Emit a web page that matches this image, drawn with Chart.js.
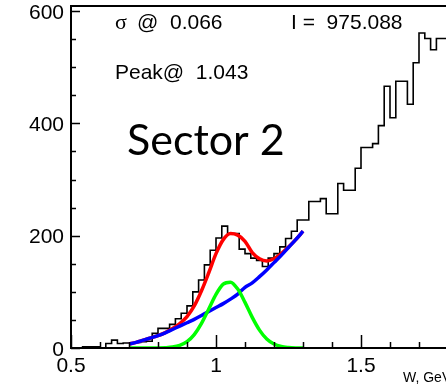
<!DOCTYPE html>
<html><head><meta charset="utf-8">
<script src="https://cdn.jsdelivr.net/npm/chart.js@4/dist/chart.umd.min.js"></script>
<style>
html,body{margin:0;padding:0;background:#fff;overflow:hidden;width:446px;height:387px}
#wrap{position:absolute;left:0;top:0;width:460px;height:387px}
canvas{display:block}
</style></head>
<body><div id="wrap"><canvas id="c" width="460" height="387"></canvas></div>
<script>
// ---- histogram: lower bin edges (GeV) and counts ----
const binLowEdges = [0.50,0.52,0.54,0.56,0.58,0.60,0.62,0.64,0.66,0.68,
  0.70,0.72,0.74,0.76,0.78,0.80,0.82,0.84,0.86,0.88,
  0.90,0.92,0.94,0.96,0.98,1.00,1.02,1.04,1.06,1.08,
  1.10,1.12,1.14,1.16,1.18,1.20,1.22,1.24,1.26,1.28,
  1.30,1.32,1.34,1.36,1.38,1.40,1.42,1.44,1.46,1.48,
  1.50,1.52,1.54,1.56,1.58,1.60,1.62,1.64,1.66,1.68,
  1.70,1.72,1.74,1.76,1.78];
const binCounts = [0,0,0,2,2,2,0,8,14,8,
  9,9,10,11,12,26,35,35,42,52,
  62,75,100,121,148,174,196,217,204,204,
  176,168,160,156,145,160,168,180,195,208,
  228,228,261,261,266,239,239,293,281,281,
  320,357,357,364,396,466,410,475,475,434,
  508,561,551,531,551];
const lastBinUpperEdge = 1.80;

// ---- fit curves ----
const fitX = [0.700,0.725,0.750,0.775,0.800,0.825,0.850,0.875,0.900,0.925,
  0.950,0.975,1.000,1.025,1.050,1.075,1.100,1.125,1.150,1.175,
  1.200,1.225,1.250,1.275,1.300];
const totalFit = [7,10,14,18,22,27.5,34.6,43.6,56,75,
  102,134,168,193,204,201,190,170,159,155,
  159,168,180,193,208];
const backgroundFit = [7,10,14,18,22,27,33,39,45,51,
  58,65,72,79,87,96,108,116,127,139,
  152,165,179,193,208];
const signalFit = [0,0,0,0,0.1,0.5,1.6,4.6,11.2,23.8,
  43.7,69.4,95.5,113.7,117.3,104.9,81.3,54.5,31.8,16,
  7,2.6,0.9,0.2,0];

// ---- axes ----
const xRange = [0.5, 1.8];
const yRange = [0, 609];
const xMajorTicks = [0.5, 1, 1.5];
const xTickLabels = ['0.5', '1', '1.5'];
const xMinorTicks = [0.6,0.7,0.8,0.9,1.1,1.2,1.3,1.4,1.6,1.7];
const yMajorTicks = [0, 200, 400, 600];
const yTickLabels = ['0', '200', '400', '600'];
const yMinorTicks = [50,100,150,250,300,350,450,500,550];

// ---- texts ----
const sigmaSymbol = 'σ';
const sigmaText = '@  0.066';
const integralText = 'I =  975.088';
const peakText = 'Peak@  1.043';
const sectorText = 'Sector 2';
const xTitle = 'W, GeV';

const histPoints = binLowEdges.map((e, i) => ({x: e, y: binCounts[i]}));
histPoints.push({x: lastBinUpperEdge, y: binCounts[binCounts.length - 1]});
const toPts = arr => fitX.map((x, i) => ({x, y: arr[i]}));

const SANS = '"Liberation Sans", Arial, Helvetica, sans-serif';

const rootStyle = {
  id: 'rootStyle',
  afterDraw(chart) {
    const {ctx, chartArea: a, scales: {x, y}} = chart;
    ctx.save();
    ctx.strokeStyle = '#000';
    ctx.lineWidth = 2;
    ctx.strokeRect(a.left, a.top, a.right - a.left, a.bottom - a.top);
    ctx.lineWidth = 1.5;
    ctx.beginPath();
    yMajorTicks.forEach(v => { const p = Math.round(y.getPixelForValue(v)) + 0.5; ctx.moveTo(a.left, p); ctx.lineTo(a.left + 9, p); });
    yMinorTicks.forEach(v => { const p = Math.round(y.getPixelForValue(v)) + 0.5; ctx.moveTo(a.left, p); ctx.lineTo(a.left + 5, p); });
    xMajorTicks.forEach(v => { const p = Math.round(x.getPixelForValue(v)) + 0.5; ctx.moveTo(p, a.bottom); ctx.lineTo(p, a.bottom - 13); });
    xMinorTicks.forEach(v => { const p = Math.round(x.getPixelForValue(v)) + 0.5; ctx.moveTo(p, a.bottom); ctx.lineTo(p, a.bottom - 6); });
    ctx.stroke();

    ctx.fillStyle = '#000';
    ctx.font = '21px ' + SANS;
    ctx.textBaseline = 'alphabetic';
    ctx.textAlign = 'right';
    yMajorTicks.forEach((v, i) => ctx.fillText(yTickLabels[i], a.left - 7, y.getPixelForValue(v) + 7.5));
    ctx.textAlign = 'center';
    xMajorTicks.forEach((v, i) => ctx.fillText(xTickLabels[i], x.getPixelForValue(v), a.bottom + 24));

    ctx.textAlign = 'left';
    ctx.font = '14px ' + SANS;
    ctx.fillText(xTitle, 403, 382);

    ctx.font = '22px "Liberation Serif", "Times New Roman", serif';
    ctx.fillText(sigmaSymbol, 115, 28.5);
    ctx.font = '21px ' + SANS;
    ctx.fillText(sigmaText, 137, 28.5);
    ctx.fillText(integralText, 291, 28.5);
    ctx.fillText(peakText, 115, 78.5);

    ctx.font = '43px Lato, "Open Sans", sans-serif';
    ctx.fillText(sectorText, 127, 155);
    ctx.restore();
  }
};

new Chart(document.getElementById('c'), {
  type: 'line',
  data: {
    datasets: [
      {data: histPoints, stepped: 'after', borderColor: '#000', borderWidth: 1.6,
       pointRadius: 0, fill: false, order: 4, borderJoinStyle: 'miter'},
      {data: toPts(totalFit), borderColor: '#ff0000', borderWidth: 3.5, pointRadius: 0,
       fill: false, cubicInterpolationMode: 'monotone', order: 3},
      {data: toPts(backgroundFit), borderColor: '#0000ff', borderWidth: 3.5, pointRadius: 0,
       fill: false, cubicInterpolationMode: 'monotone', order: 2},
      {data: toPts(signalFit), borderColor: '#00ff00', borderWidth: 3.5, pointRadius: 0,
       fill: false, cubicInterpolationMode: 'monotone', order: 1}
    ]
  },
  options: {
    responsive: false,
    animation: false,
    devicePixelRatio: 1,
    events: [],
    layout: {padding: {top: 6, right: 12, left: 0, bottom: 0}},
    plugins: {legend: {display: false}, tooltip: {enabled: false}},
    scales: {
      x: {type: 'linear', min: xRange[0], max: xRange[1],
          grid: {display: false, drawTicks: false}, border: {display: false},
          ticks: {display: false},
          afterFit: s => { s.height = 39; }},
      y: {type: 'linear', min: yRange[0], max: yRange[1],
          grid: {display: false, drawTicks: false}, border: {display: false},
          ticks: {display: false},
          afterFit: s => { s.width = 71; }}
    }
  },
  plugins: [rootStyle]
});
</script>
</body></html>
